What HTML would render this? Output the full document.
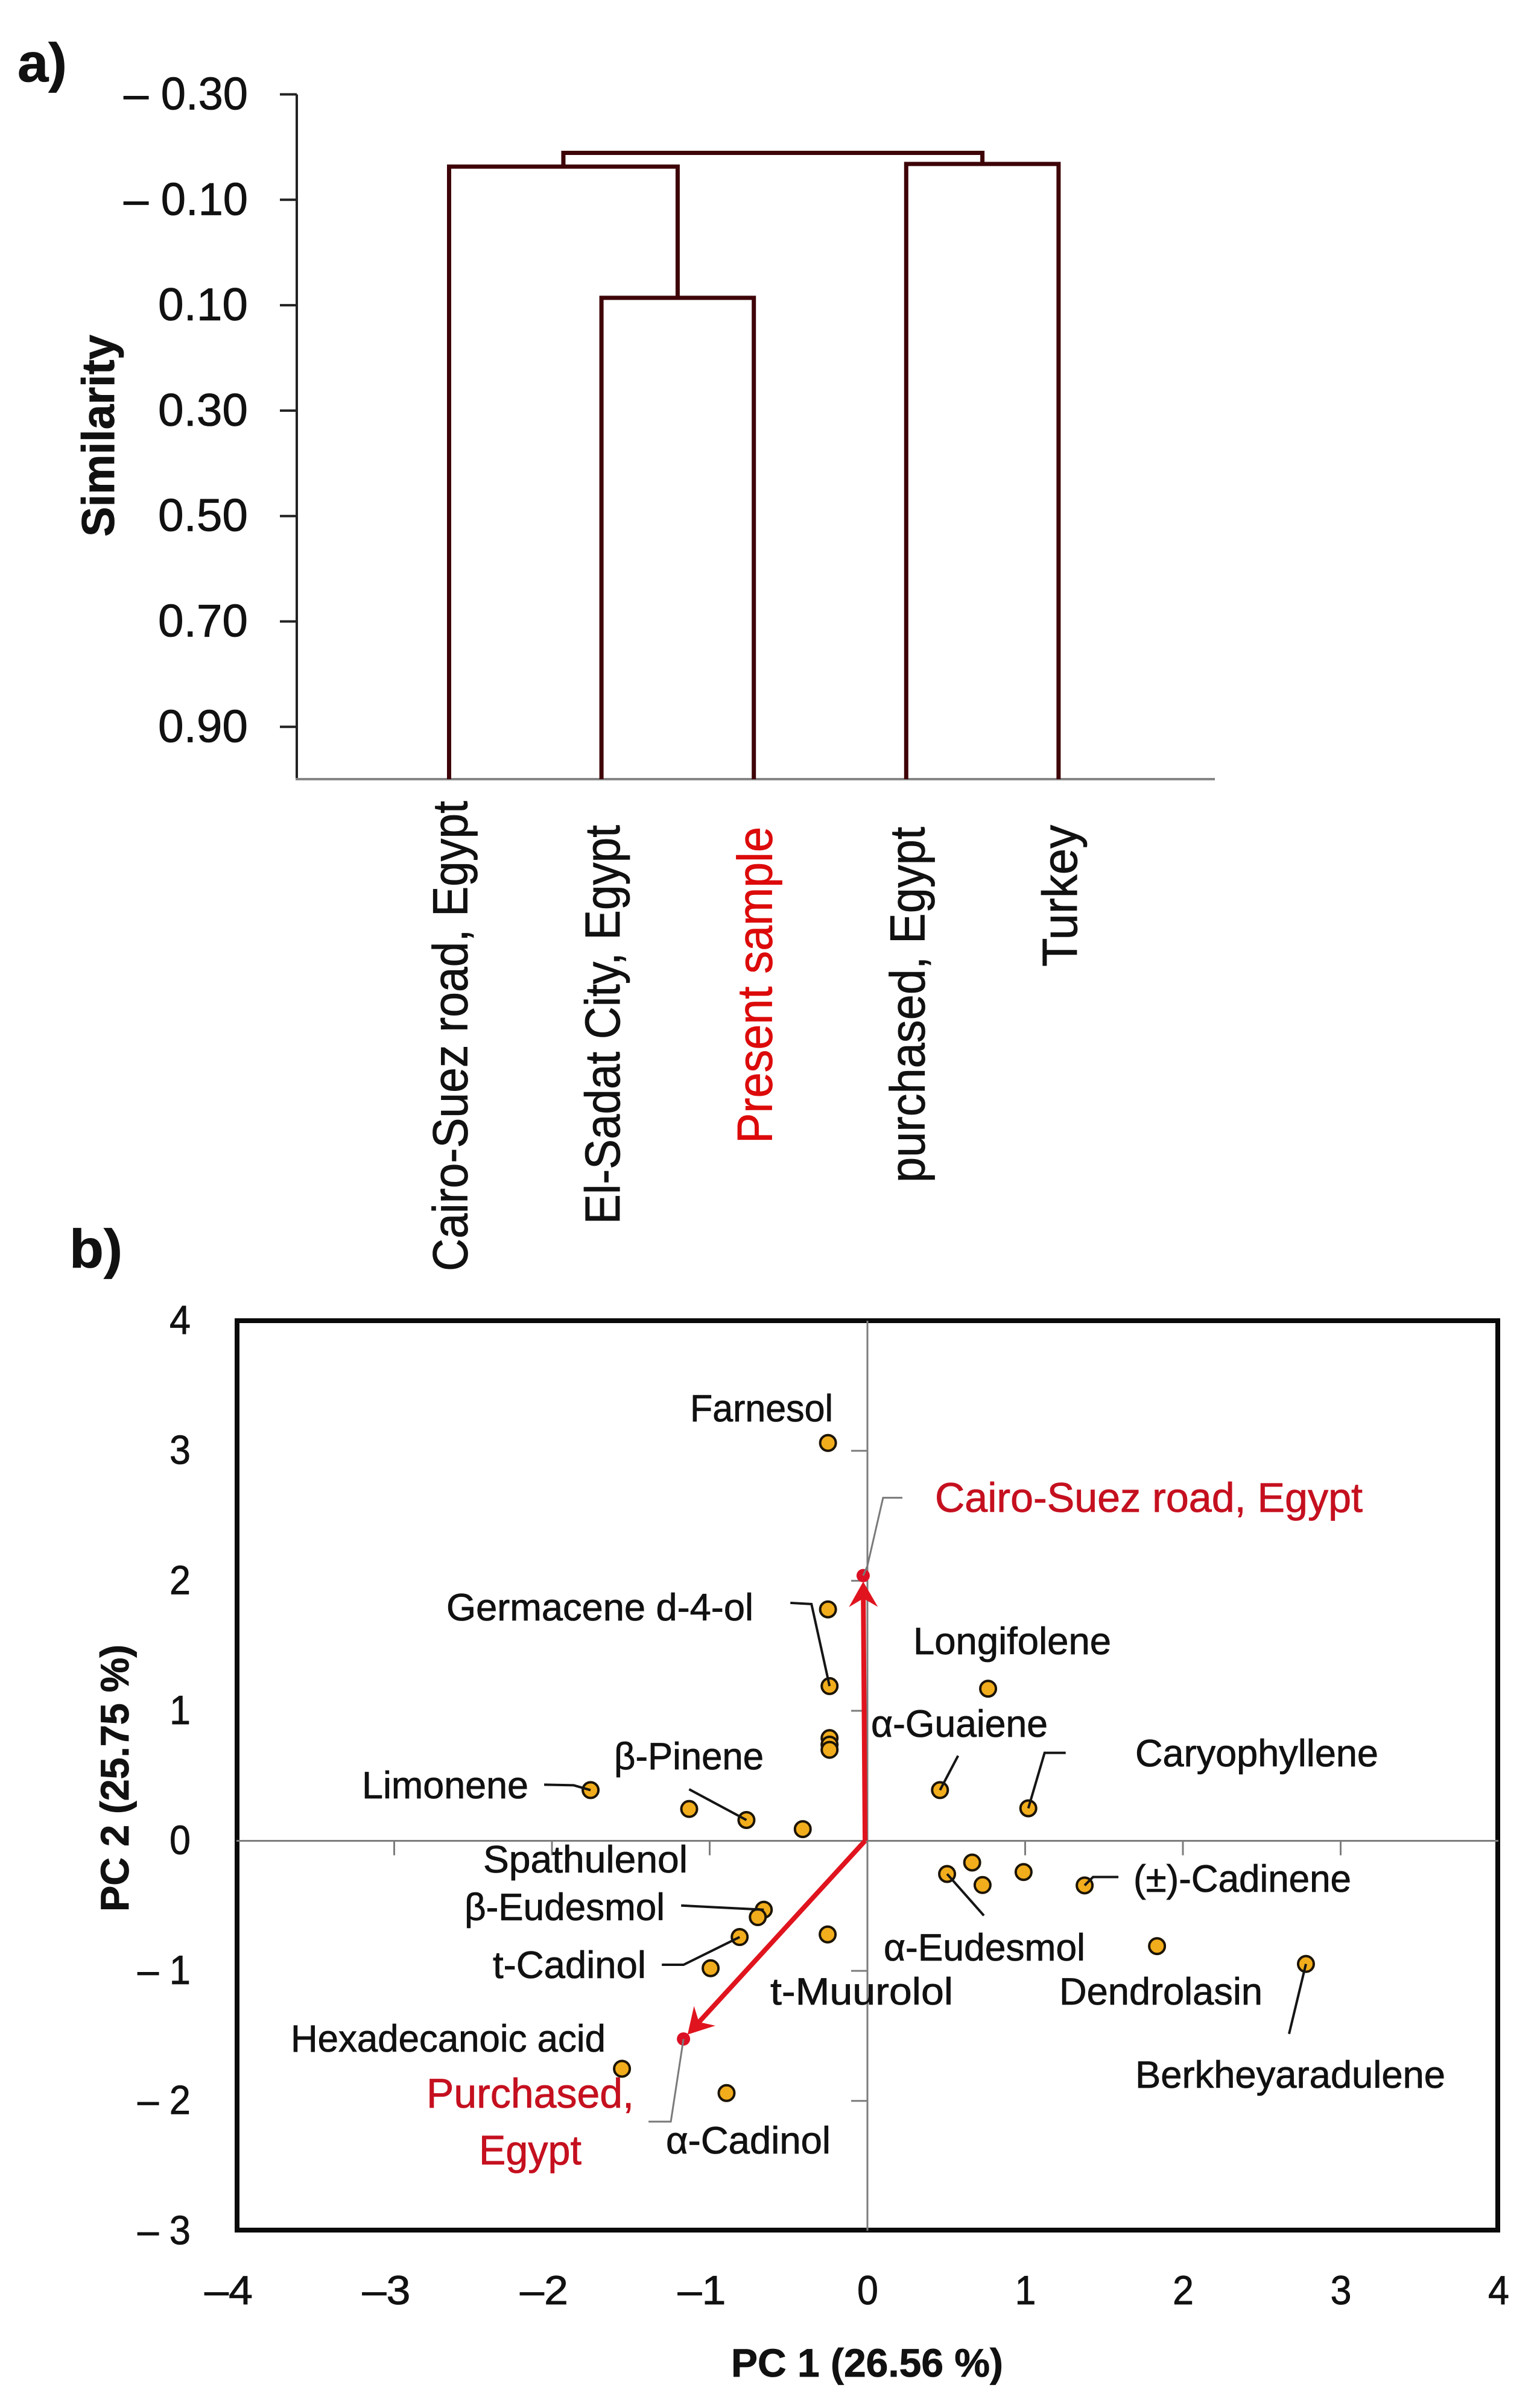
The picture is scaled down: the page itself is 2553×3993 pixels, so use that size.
<!DOCTYPE html>
<html lang="en">
<head>
<meta charset="utf-8">
<title>Dendrogram and PCA biplot</title>
<style>
html,body{margin:0;padding:0;background:#fff;}
svg{display:block;}
text{font-family:"Liberation Sans",sans-serif;fill:#111;stroke:#111;stroke-width:0.8px;}
.ann{font-size:63px;}
.red{font-size:69px;fill:#c5101f;stroke:#c5101f;}
.bold{font-weight:bold;}
.leaf{font-size:82px;}
</style>
</head>
<body>
<svg id="figure" xmlns="http://www.w3.org/2000/svg" width="2553" height="3993" viewBox="0 0 2553 3993">
<rect x="0" y="0" width="2553" height="3993" fill="#fff"/>
<text class="bold" x="29" y="135" font-size="90" textLength="82" lengthAdjust="spacingAndGlyphs">a)</text>
<text class="bold" x="115" y="2102" font-size="90" textLength="88" lengthAdjust="spacingAndGlyphs">b)</text>
<text class="bold" font-size="76" transform="translate(189,890) rotate(-90)" textLength="335" lengthAdjust="spacingAndGlyphs">Similarity</text>
<g id="dendrogram"></g>

<rect x="393" y="2190" width="2090" height="1508" fill="#fff" stroke="#0a0a0a" stroke-width="8"/>
<g id="biplot"></g>

<g>
<text class="ann" x="1144" y="2357" textLength="237" lengthAdjust="spacingAndGlyphs">Farnesol</text>
<text class="ann" x="740" y="2687" textLength="509" lengthAdjust="spacingAndGlyphs">Germacene d-4-ol</text>
<text class="ann" x="600" y="2982" textLength="276" lengthAdjust="spacingAndGlyphs">Limonene</text>
<text class="ann" x="1018" y="2934" textLength="248" lengthAdjust="spacingAndGlyphs">β-Pinene</text>
<text class="ann" x="801" y="3105" textLength="339" lengthAdjust="spacingAndGlyphs">Spathulenol</text>
<text class="ann" x="1514" y="2743" textLength="328" lengthAdjust="spacingAndGlyphs">Longifolene</text>
<text class="ann" x="1444" y="2880" textLength="293" lengthAdjust="spacingAndGlyphs">α-Guaiene</text>
<text class="ann" x="1882" y="2929" textLength="403" lengthAdjust="spacingAndGlyphs">Caryophyllene</text>
<text class="ann" x="1879" y="3137" textLength="361" lengthAdjust="spacingAndGlyphs">(±)-Cadinene</text>
<text class="ann" x="1465" y="3251" textLength="334" lengthAdjust="spacingAndGlyphs">α-Eudesmol</text>
<text class="ann" x="1277" y="3324" textLength="303" lengthAdjust="spacingAndGlyphs">t-Muurolol</text>
<text class="ann" x="1756" y="3324" textLength="337" lengthAdjust="spacingAndGlyphs">Dendrolasin</text>
<text class="ann" x="1882" y="3462" textLength="514" lengthAdjust="spacingAndGlyphs">Berkheyaradulene</text>
<text class="ann" x="770" y="3184" textLength="332" lengthAdjust="spacingAndGlyphs">β-Eudesmol</text>
<text class="ann" x="817" y="3280" textLength="254" lengthAdjust="spacingAndGlyphs">t-Cadinol</text>
<text class="ann" x="482" y="3402" textLength="522" lengthAdjust="spacingAndGlyphs">Hexadecanoic acid</text>
<text class="ann" x="1104" y="3571" textLength="273" lengthAdjust="spacingAndGlyphs">α-Cadinol</text>
<text class="red" x="1550" y="2507" textLength="709" lengthAdjust="spacingAndGlyphs">Cairo-Suez road, Egypt</text>
<text class="red" x="707" y="3495" textLength="344" lengthAdjust="spacingAndGlyphs">Purchased,</text>
<text class="red" x="794" y="3589" textLength="170" lengthAdjust="spacingAndGlyphs">Egypt</text>
</g>
<text class="bold" font-size="66" x="1212" y="3941" textLength="451" lengthAdjust="spacingAndGlyphs">PC 1 (26.56 %)</text>
<text class="bold" font-size="66" transform="translate(213,3170) rotate(-90)" textLength="443" lengthAdjust="spacingAndGlyphs">PC 2 (25.75 %)</text>
</svg>
<script>
// ---- Panel a data ----
const leafNames = ["Cairo-Suez road, Egypt", "El-Sadat City, Egypt", "Present sample", "purchased, Egypt", "Turkey"];
const similarityTicks = [-0.30, -0.10, 0.10, 0.30, 0.50, 0.70, 0.90];
const mergeLeft = [1, 3, 0, 7];
const mergeRight = [2, 4, 5, 6];
const mergeSimilarity = [0.086, -0.168, -0.163, -0.189];

// ---- Panel b data ----
const compoundNames = ["farnesol", "germacene-d-4-ol", "compound-a", "compound-b", "compound-c", "compound-d", "limonene", "compound-e", "beta-pinene", "compound-f", "alpha-guaiene", "caryophyllene", "longifolene", "alpha-eudesmol", "compound-g", "compound-h", "compound-i", "cadinene", "dendrolasin", "berkheyaradulene", "beta-eudesmol", "spathulenol", "t-cadinol", "compound-j", "t-muurolol", "hexadecanoic-acid", "alpha-cadinol"];
const pc1Values = [-0.25, -0.25, -0.24, -0.24, -0.24, -0.24, -1.755, -1.13, -0.767, -0.41, 0.46, 1.02, 0.765, 0.505, 0.664, 0.73, 0.99, 1.377, 1.836, 2.78, -0.657, -0.695, -0.81, -0.994, -0.252, -1.556, -0.893];
const pc2Values = [3.06, 1.78, 1.19, 0.79, 0.74, 0.70, 0.39, 0.245, 0.16, 0.09, 0.39, 0.25, 1.17, -0.255, -0.167, -0.34, -0.24, -0.343, -0.81, -0.947, -0.53, -0.587, -0.74, -0.98, -0.72, -1.753, -1.94];
const loadingNames = ["cairo-suez", "purchased"];
const loadingPc1 = [-0.027, -1.166];
const loadingPc2 = [2.04, -1.524];
const pc1Ticks = [-4, -3, -2, -1, 0, 1, 2, 3, 4];
const pc2Ticks = [-3, -2, -1, 0, 1, 2, 3, 4];

const NS = "http://www.w3.org/2000/svg";
function mk(parent, tag, attrs, txt) {
  const el = document.createElementNS(NS, tag);
  for (const k in attrs) el.setAttribute(k, attrs[k]);
  if (txt !== undefined) el.textContent = txt;
  parent.appendChild(el);
  return el;
}

// ---- Panel a: axes ----
const dg = document.getElementById("dendrogram");
const sy = v => 156.5 + (v + 0.3) * 874;
const lx = i => 744.5 + 252.6 * i;
const baseY = 1292;
{
  let el = mk(dg, "line", {x1: 492, x2: 492, y1: sy(-0.3), y2: baseY, stroke: "#222", "stroke-width": 4});
  
  
  el = mk(dg, "line", {x1: 490, x2: 2014, y1: baseY, y2: baseY, stroke: "#858585", "stroke-width": 4});
  
  
}
similarityTicks.forEach(v => {
  const t = mk(dg, "line", {x1: 464, x2: 492, y1: sy(v), y2: sy(v), stroke: "#222", "stroke-width": 4});
  
  
  const neg = v < 0;
  const l = mk(dg, "text", {x: 411, y: sy(v) + 25, "text-anchor": "end", "font-size": 76, textLength: neg ? 206 : 149, lengthAdjust: "spacingAndGlyphs"}, (neg ? "– " : "") + Math.abs(v).toFixed(2));
  
  
});

// ---- Panel a: dendrogram links built from the merge arrays ----
const nodeX = leafNames.map((_, i) => lx(i));
const nodeY = leafNames.map(() => baseY);
mergeLeft.forEach((a, m) => {
  const b = mergeRight[m];
  const y = sy(mergeSimilarity[m]);
  const p = mk(dg, "path", {d: `M${nodeX[a]} ${nodeY[a]}V${y}H${nodeX[b]}V${nodeY[b]}`, fill: "none", stroke: "#3e0408", "stroke-width": 7});
  
  
  nodeX.push((nodeX[a] + nodeX[b]) / 2);
  nodeY.push(y);
});
// leaf labels: baseline offset, start and drawn length of each rotated label
function leafLabel(i, startY, len) {
  const t = mk(dg, "text", {class: "leaf", transform: `translate(${lx(i) + 30},${startY}) rotate(-90)`, textLength: len, lengthAdjust: "spacingAndGlyphs"}, leafNames[i]);
  if (leafNames[i] === "Present sample") { t.style.fill = "#dc0a0a"; t.style.stroke = "#dc0a0a"; }
  
  
}
leafLabel(0, 2108, 780);
leafLabel(1, 2030, 662);
leafLabel(2, 1896, 525);
leafLabel(3, 1961, 590);
leafLabel(4, 1603, 235);

// ---- Panel b: scales ----
const bp = document.getElementById("biplot");
const px = v => 1438 + v * 261.5;
const py = v => 3052.5 - v * 215.6;
{
  let el = mk(bp, "line", {x1: px(0), x2: px(0), y1: py(4), y2: py(-3), stroke: "#7d7d7d", "stroke-width": 3});
  
  
  el = mk(bp, "line", {x1: px(-4), x2: px(4), y1: py(0), y2: py(0), stroke: "#7d7d7d", "stroke-width": 3});
  
  
}
pc1Ticks.forEach(v => {
  if (v !== 0 && Math.abs(v) !== 4) {
    const t = mk(bp, "line", {x1: px(v), x2: px(v), y1: py(0), y2: py(0) + 24, stroke: "#7d7d7d", "stroke-width": 3});
    
    
  }
  const neg = v < 0;
  const l = mk(bp, "text", {x: px(v) + (neg ? 27 : 18), y: 3821, "text-anchor": "end", "font-size": 68, textLength: neg ? 80 : 35, lengthAdjust: "spacingAndGlyphs"}, (neg ? "–" : "") + Math.abs(v));
  
  
});
pc2Ticks.forEach(v => {
  if (v !== 0 && v !== 4 && v !== -3) {
    const t = mk(bp, "line", {x1: px(0) - 27, x2: px(0), y1: py(v), y2: py(v), stroke: "#7d7d7d", "stroke-width": 3});
    
    
  }
  const neg = v < 0;
  const l = mk(bp, "text", {x: 316, y: py(v) + 22, "text-anchor": "end", "font-size": 68, textLength: neg ? 88 : 35, lengthAdjust: "spacingAndGlyphs"}, (neg ? "– " : "") + Math.abs(v));
  
  
});

// ---- Panel b: loading arrows ----
const originPc1 = -0.015;
loadingNames.forEach((n, i) => {
  const x0 = px(originPc1), y0 = py(0), x1 = px(loadingPc1[i]), y1 = py(loadingPc2[i]);
  const d = Math.hypot(x1 - x0, y1 - y0), ux = (x1 - x0) / d, uy = (y1 - y0) / d, nx = -uy, ny = ux;
  const bx = x1 - ux * 52, by = y1 - uy * 52;
  const s = mk(bp, "line", {x1: x0, y1: y0, x2: x1 - ux * 30, y2: y1 - uy * 30, stroke: "#e0141e", "stroke-width": 8});
  
  
  const h = mk(bp, "polygon", {points: `${x1 - ux * 10},${y1 - uy * 10} ${bx + nx * 24},${by + ny * 24} ${x1 - ux * 38},${y1 - uy * 38} ${bx - nx * 24},${by - ny * 24}`, fill: "#e0141e"});
  
  
  const c = mk(bp, "circle", {cx: x1, cy: y1, r: 11, fill: "#dc1024"});
  
  
});

// ---- Panel b: compound points ----
compoundNames.forEach((n, i) => {
  const c = mk(bp, "circle", {cx: px(pc1Values[i]), cy: py(pc2Values[i]), r: 13, fill: "#f2ad1c", stroke: "#1c1406", "stroke-width": 4});
  
  
});

// ---- Panel b: leader lines anchored to a compound, then bending by pixel offsets ----
function leader(name, dark) {
  const rest = Array.prototype.slice.call(arguments, 2);
  const idx = compoundNames.indexOf(name);
  const x0 = idx >= 0 ? px(pc1Values[idx]) : px(loadingPc1[loadingNames.indexOf(name)]);
  const y0 = idx >= 0 ? py(pc2Values[idx]) : py(loadingPc2[loadingNames.indexOf(name)]);
  let d = `M${x0} ${y0}`;
  rest.forEach(o => { d += `L${x0 + o[0]} ${y0 + o[1]}`; });
  const p = mk(bp, "path", {d: d, fill: "none", stroke: dark ? "#151515" : "#7a7a7a", "stroke-width": dark ? 4 : 3});
  
  
}
leader("compound-a", true, [-30, -136], [-65, -138]);
leader("limonene", true, [-28, -8], [-77, -9]);
leader("beta-pinene", true, [-95, -51]);
leader("alpha-guaiene", true, [30, -57]);
leader("caryophyllene", true, [27, -92], [62, -92]);
leader("alpha-eudesmol", true, [61, 69]);
leader("cadinene", true, [14, -14], [56, -14]);
leader("berkheyaradulene", true, [-28, 116]);
leader("beta-eudesmol", true, [-137, -7]);
leader("t-cadinol", true, [-93, 46], [-129, 46]);
leader("cairo-suez", false, [7, -16], [33, -129], [65, -129]);
leader("purchased", false, [-21, 137], [-58, 137]);
</script>
</body>
</html>
